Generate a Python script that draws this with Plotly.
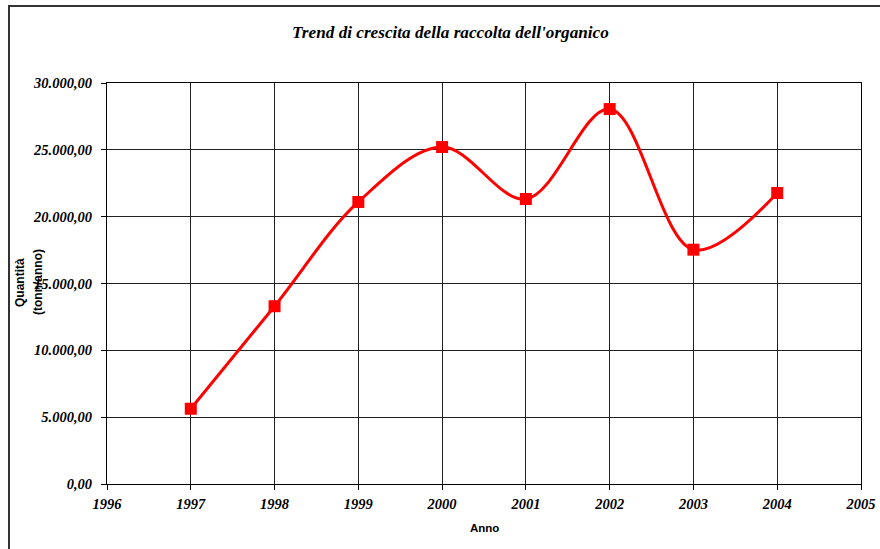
import plotly.graph_objects as go

years = [1997, 1998, 1999, 2000, 2001, 2002, 2003, 2004]
quantita = [5630, 13300, 21100, 25210, 21320, 28050, 17530, 21770]

title_text = "Trend di crescita della raccolta dell'organico"
x_title = "Anno"
y_title_lines = ["Quantità", "(tonn/anno)"]

W, H = 880, 549
L, R, T, B = 107, 861, 83, 484
pw, ph = R - L, B - T

def px_x(p):
    return (p - L) / pw

def px_y(p):
    return (B - p) / ph

serif = "Liberation Serif, Times New Roman, serif"
sans = "Liberation Sans, Arial, sans-serif"

fig = go.Figure()
fig.add_trace(go.Scatter(
    x=years, y=quantita, mode="lines+markers",
    line=dict(color="#ff0000", width=3, shape="spline", smoothing=1),
    marker=dict(symbol="square", size=12, color="#ff0000"),
    hoverinfo="x+y", showlegend=False,
))

tickfont = dict(family=serif, size=14.5, color="black", weight="bold", style="italic")

fig.update_layout(
    width=W, height=H, autosize=False,
    margin=dict(l=L, r=W - R, t=T, b=H - B, autoexpand=False),
    paper_bgcolor="white", plot_bgcolor="white",
    separators=",.",
    xaxis=dict(
        range=[1996, 2005], dtick=1, tick0=1996,
        showgrid=True, gridcolor="#222", gridwidth=1,
        showline=True, linecolor="black", linewidth=1, mirror=True,
        ticks="outside", ticklen=5, tickcolor="black",
        ticklabelstandoff=2,
        tickfont=tickfont, automargin=False,
        zeroline=False, fixedrange=True,
    ),
    yaxis=dict(
        range=[0, 30000], dtick=5000, tick0=0,
        tickformat=",.2f",
        showgrid=True, gridcolor="#222", gridwidth=1,
        showline=True, linecolor="black", linewidth=1, mirror=True,
        ticks="outside", ticklen=5, tickcolor="black",
        ticklabelstandoff=6, automargin=False,
        tickfont=tickfont,
        zeroline=False, fixedrange=True,
    ),
    shapes=[dict(
        type="rect", xref="paper", yref="paper",
        x0=px_x(9), x1=px_x(900), y0=px_y(600), y1=px_y(6),
        line=dict(color="#333", width=2), fillcolor="rgba(0,0,0,0)", layer="below",
    )],
    annotations=[
        dict(text=title_text, xref="paper", yref="paper",
             x=px_x(450), y=px_y(32), xanchor="center", yanchor="middle",
             showarrow=False,
             font=dict(family=serif, size=17.2, color="black", weight="bold", style="italic")),
        dict(text=x_title, xref="paper", yref="paper",
             x=px_x(484), y=px_y(528), xanchor="center", yanchor="middle",
             showarrow=False,
             font=dict(family=sans, size=11.5, color="black", weight="bold")),
        dict(text=y_title_lines[0], xref="paper", yref="paper",
             x=px_x(20), y=px_y(283), xanchor="center", yanchor="middle",
             textangle=-90, showarrow=False,
             font=dict(family=sans, size=12, color="black", weight="bold")),
        dict(text=y_title_lines[1], xref="paper", yref="paper",
             x=px_x(38), y=px_y(282), xanchor="center", yanchor="middle",
             textangle=-90, showarrow=False,
             font=dict(family=sans, size=12, color="black", weight="bold")),
    ],
)

fig.write_html(
    "out.html",
    config={"displayModeBar": False, "responsive": False},
    post_script="document.body.style.margin='0';document.body.style.overflow='hidden';",
)
